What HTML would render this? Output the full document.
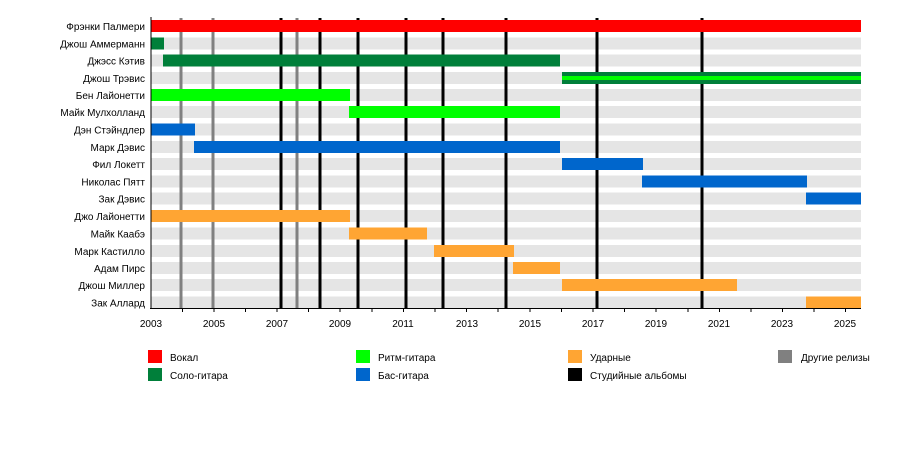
<!DOCTYPE html>
<html><head><meta charset="utf-8"><style>body{margin:0;background:#fff}svg{display:block}text{font-family:"Liberation Sans",sans-serif;font-size:10px;fill:#000}</style></head>
<body>
<svg width="900" height="458" viewBox="0 0 900 458" xmlns="http://www.w3.org/2000/svg">
<g fill="#e5e5e5">
<rect x="151" y="20" width="710" height="12"/><rect x="151" y="37.5" width="710" height="12"/><rect x="151" y="54.5" width="710" height="12"/><rect x="151" y="72" width="710" height="12"/><rect x="151" y="89" width="710" height="12"/><rect x="151" y="106" width="710" height="12"/><rect x="151" y="123.5" width="710" height="12"/><rect x="151" y="141" width="710" height="12"/><rect x="151" y="158" width="710" height="12"/><rect x="151" y="175.5" width="710" height="12"/><rect x="151" y="192.5" width="710" height="12"/><rect x="151" y="210" width="710" height="12"/><rect x="151" y="227.5" width="710" height="12"/><rect x="151" y="245" width="710" height="12"/><rect x="151" y="262" width="710" height="12"/><rect x="151" y="279" width="710" height="12"/><rect x="151" y="296.5" width="710" height="12"/>
</g>
<g stroke="#808080" stroke-width="3"><line x1="181" y1="18" x2="181" y2="308"/><line x1="213" y1="18" x2="213" y2="308"/><line x1="297" y1="18" x2="297" y2="308"/></g>
<g stroke="#000" stroke-width="3"><line x1="281" y1="18" x2="281" y2="308"/><line x1="320" y1="18" x2="320" y2="308"/><line x1="358" y1="18" x2="358" y2="308"/><line x1="406" y1="18" x2="406" y2="308"/><line x1="443" y1="18" x2="443" y2="308"/><line x1="506" y1="18" x2="506" y2="308"/><line x1="597" y1="18" x2="597" y2="308"/><line x1="702" y1="18" x2="702" y2="308"/></g>
<rect x="151" y="20" width="710" height="12" fill="#ff0000"/>
<g fill="#007f3a"><rect x="151" y="37.5" width="13" height="12"/><rect x="163" y="54.5" width="397" height="12"/><rect x="562" y="72" width="299" height="12"/></g>
<rect x="562" y="76" width="299" height="4" fill="#00ff00"/>
<g fill="#00ff00"><rect x="151" y="89" width="199" height="12"/><rect x="349" y="106" width="211" height="12"/></g>
<g fill="#0066cc"><rect x="151" y="123.5" width="44" height="12"/><rect x="194" y="141" width="366" height="12"/><rect x="562" y="158" width="81" height="12"/><rect x="642" y="175.5" width="165" height="12"/><rect x="806" y="192.5" width="55" height="12"/></g>
<g fill="#ffa533"><rect x="151" y="210" width="199" height="12"/><rect x="349" y="227.5" width="78" height="12"/><rect x="434" y="245" width="80" height="12"/><rect x="513" y="262" width="47" height="12"/><rect x="562" y="279" width="175" height="12"/><rect x="806" y="296.5" width="55" height="12"/></g>
<g stroke="#000" stroke-width="1"><line x1="151" y1="17" x2="151" y2="309"/><line x1="150" y1="308.5" x2="861" y2="308.5"/></g>
<g stroke="#000" stroke-width="1" id="ticks"></g>
<g text-anchor="end">
<text x="145" y="30">Фрэнки Палмери</text><text x="145" y="47.5">Джош Аммерманн</text><text x="145" y="64.5">Джэсс Кэтив</text><text x="145" y="82">Джош Трэвис</text><text x="145" y="99">Бен Лайонетти</text><text x="145" y="116">Майк Мулхолланд</text><text x="145" y="133.5">Дэн Стэйндлер</text><text x="145" y="151">Марк Дэвис</text><text x="145" y="168">Фил Локетт</text><text x="145" y="185.5">Николас Пятт</text><text x="145" y="202.5">Зак Дэвис</text><text x="145" y="220">Джо Лайонетти</text><text x="145" y="237.5">Майк Каабэ</text><text x="145" y="255">Марк Кастилло</text><text x="145" y="272">Адам Пирс</text><text x="145" y="289">Джош Миллер</text><text x="145" y="306.5">Зак Аллард</text>
</g>
<g text-anchor="middle">
<text x="151" y="327">2003</text><text x="214" y="327">2005</text><text x="277" y="327">2007</text><text x="340" y="327">2009</text><text x="403" y="327">2011</text><text x="467" y="327">2013</text><text x="530" y="327">2015</text><text x="593" y="327">2017</text><text x="656" y="327">2019</text><text x="719" y="327">2021</text><text x="782" y="327">2023</text><text x="845" y="327">2025</text>
</g>
<rect x="148" y="350" width="14" height="13" fill="#ff0000"/><text x="170" y="361">Вокал</text>
<rect x="148" y="368" width="14" height="13" fill="#007f3a"/><text x="170" y="379">Соло-гитара</text>
<rect x="356" y="350" width="14" height="13" fill="#00ff00"/><text x="378" y="361">Ритм-гитара</text>
<rect x="356" y="368" width="14" height="13" fill="#0066cc"/><text x="378" y="379">Бас-гитара</text>
<rect x="568" y="350" width="14" height="13" fill="#ffa533"/><text x="590" y="361">Ударные</text>
<rect x="568" y="368" width="14" height="13" fill="#000"/><text x="590" y="379">Студийные альбомы</text>
<rect x="778" y="350" width="14" height="13" fill="#808080"/><text x="801" y="361">Другие релизы</text>
<g stroke="#000" stroke-width="1">
<line x1="182.5" y1="308" x2="182.5" y2="312"/><line x1="214" y1="308" x2="214" y2="312"/><line x1="245.5" y1="308" x2="245.5" y2="312"/><line x1="277" y1="308" x2="277" y2="312"/><line x1="308.5" y1="308" x2="308.5" y2="312"/><line x1="340" y1="308" x2="340" y2="312"/><line x1="372" y1="308" x2="372" y2="312"/><line x1="403.5" y1="308" x2="403.5" y2="312"/><line x1="435" y1="308" x2="435" y2="312"/><line x1="466.5" y1="308" x2="466.5" y2="312"/><line x1="498" y1="308" x2="498" y2="312"/><line x1="530" y1="308" x2="530" y2="312"/><line x1="561.5" y1="308" x2="561.5" y2="312"/><line x1="593" y1="308" x2="593" y2="312"/><line x1="624.5" y1="308" x2="624.5" y2="312"/><line x1="656" y1="308" x2="656" y2="312"/><line x1="688" y1="308" x2="688" y2="312"/><line x1="719.5" y1="308" x2="719.5" y2="312"/><line x1="751" y1="308" x2="751" y2="312"/><line x1="782.5" y1="308" x2="782.5" y2="312"/><line x1="814" y1="308" x2="814" y2="312"/><line x1="845.5" y1="308" x2="845.5" y2="312"/>
</g>
</svg>
</body></html>
